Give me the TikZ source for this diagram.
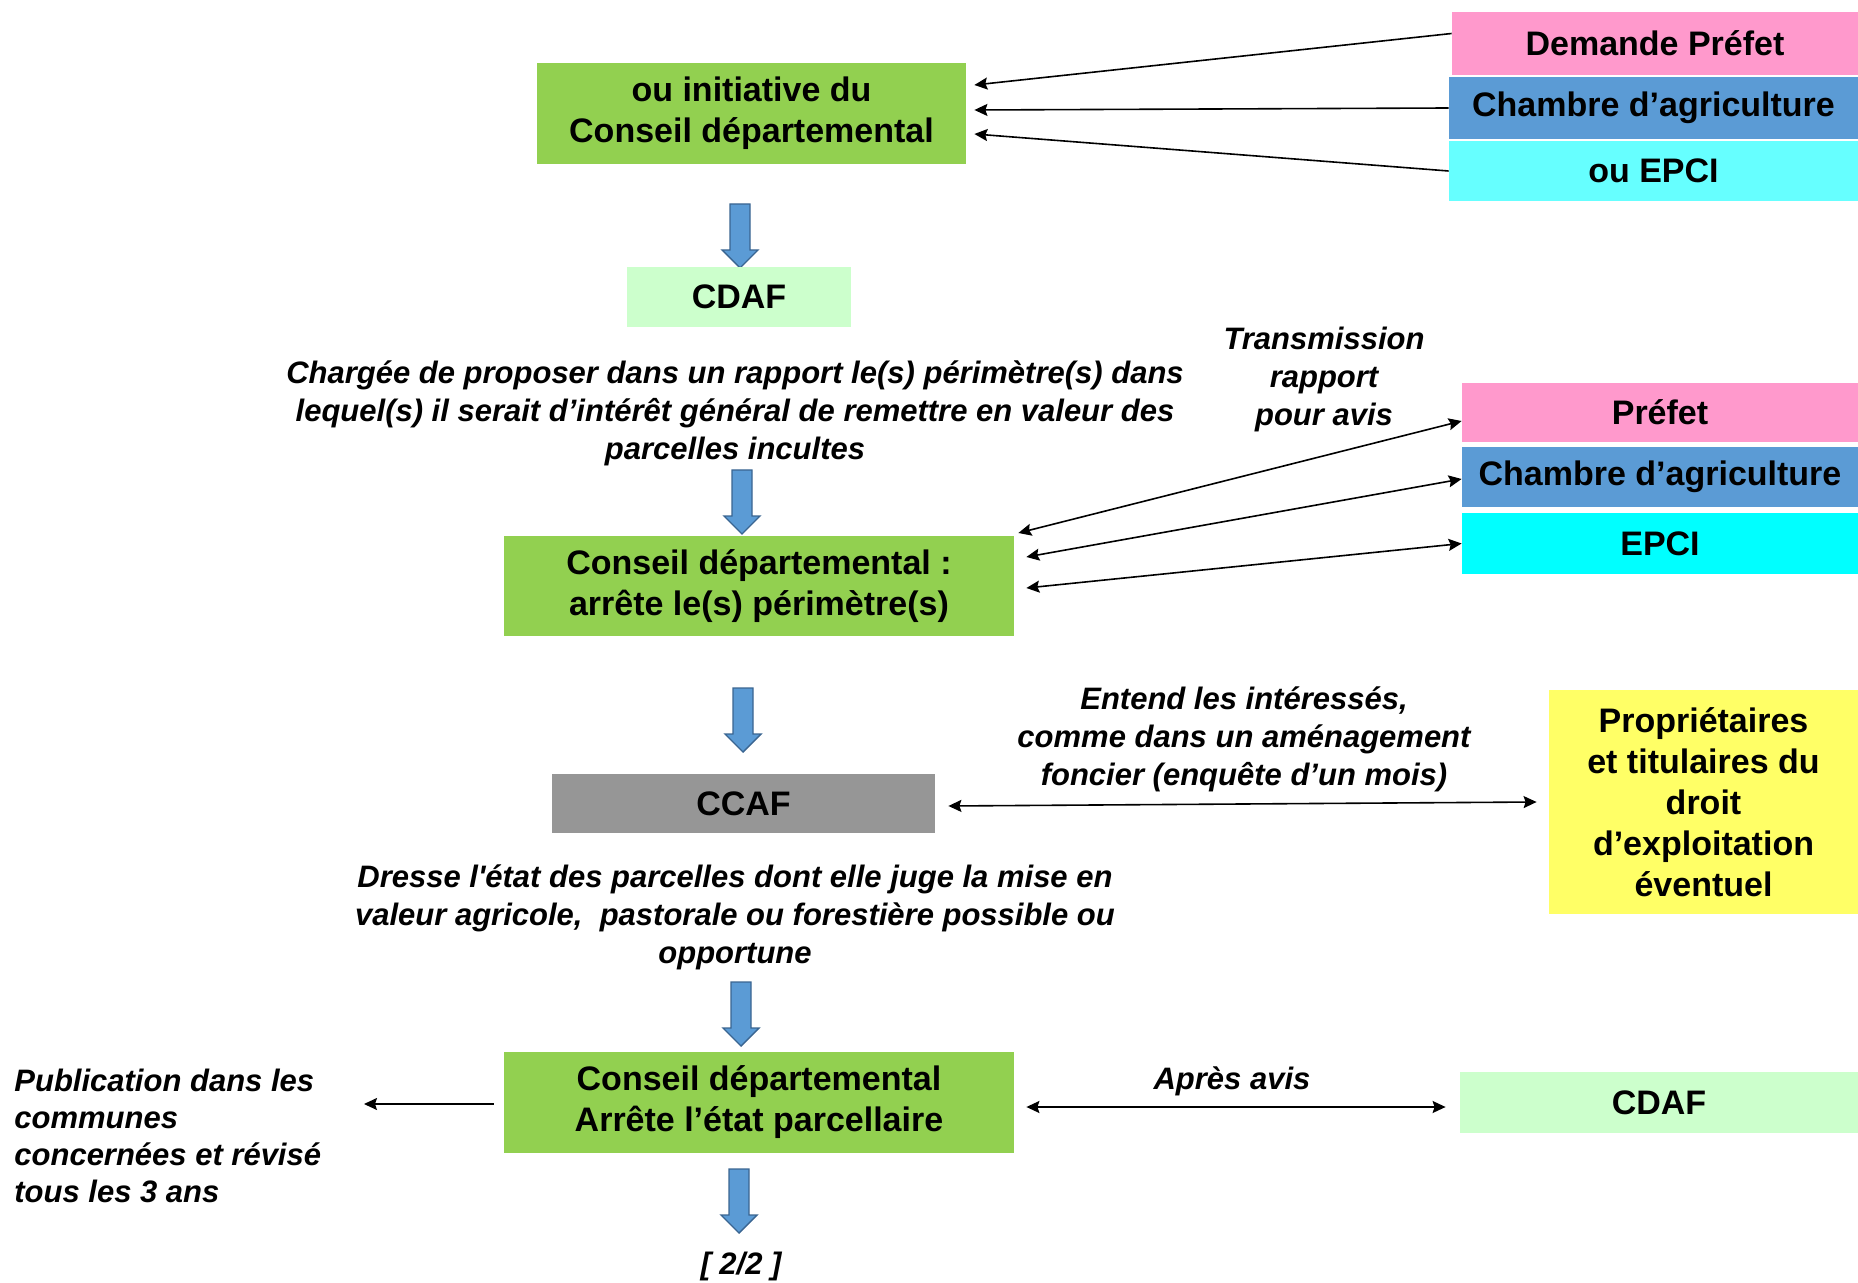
\documentclass[tikz,border=0pt]{standalone}
\usepackage{fontspec}
\setmainfont{Liberation Sans}
\usetikzlibrary{arrows.meta,calc}
\definecolor{vertcd}{HTML}{92D050}
\definecolor{vertpale}{HTML}{CCFFCC}
\definecolor{rosepref}{HTML}{FF99CC}
\definecolor{bleuch}{HTML}{5B9BD5}
\definecolor{cyanclair}{HTML}{66FFFF}
\definecolor{cyanvif}{HTML}{00FFFF}
\definecolor{grisccaf}{HTML}{969696}
\definecolor{jaunepro}{HTML}{FFFF66}
\definecolor{bleufl}{HTML}{5B9BD5}
\definecolor{bleubord}{HTML}{3A6591}
\newcommand{\policeboite}{\fontsize{17}{20.5}\selectfont\bfseries}
\newcommand{\policeital}{\fontsize{15.5}{19}\selectfont\bfseries\itshape}
\tikzset{
  boite/.style={rectangle, fill=#1, inner sep=0pt, align=center, font=\policeboite},
  taille/.style 2 args={minimum width=#1*0.5pt, minimum height=#2*0.5pt},
  legende/.style={align=center, inner sep=0pt, font=\policeital},
  fleche/.style={-{Stealth[length=6.5pt,width=6pt,inset=1pt]}, line width=0.8pt},
  fleches/.style={{Stealth[length=6.5pt,width=6pt,inset=1pt]}-{Stealth[length=6.5pt,width=6pt,inset=1pt]}, line width=0.8pt},
  blocbleu/.style={fill=bleufl, draw=bleubord, line width=0.7pt, line join=miter},
  flechebas/.pic={\draw[blocbleu] (-10,0) -- (10,0) -- (10,46) -- (18,46) -- (0,64) -- (-18,46) -- (-10,46) -- cycle;},
}

\begin{document}
\begin{tikzpicture}[x=0.5pt, y=-0.5pt]
\useasboundingbox (0,0) rectangle (1858,1283);
% initiative
\node[boite=vertcd, taille={429}{101}] (b1) at (751.5,113.5) {ou initiative du\\Conseil départemental};
\node[boite=rosepref, taille={406}{63}] (dp) at (1655,43.5) {Demande Préfet};
\node[boite=bleuch, taille={409}{62}] (ca1) at (1653.5,108) {Chambre d’agriculture};
\node[boite=cyanclair, taille={409}{60}] (epci1) at (1653.5,171) {ou EPCI};
\draw[fleche] ([shift={(0,-10)}]dp.west) -- ([shift={(8,-28.5)}]b1.east);
\draw[fleche] (ca1.west) -- ([shift={(8,-3.5)}]b1.east);
\draw[fleche] (epci1.west) -- ([shift={(8,20.5)}]b1.east);
\pic (fl1) at (740,204) {flechebas};
\node[boite=vertpale, taille={224}{60}] (cdaf1) at (739,297) {CDAF};
\node[legende] (txtcharge) at (735,413) {Chargée de proposer dans un rapport le(s) périmètre(s) dans\\lequel(s) il serait d’intérêt général de remettre en valeur des\\parcelles incultes};
% perimetres
\node[legende] (txttrans) at (1324,379) {Transmission\\rapport\\pour avis};
\pic (fl2) at (742,470) {flechebas};
\node[boite=vertcd, taille={510}{100}] (b2) at (759,586) {Conseil départemental :\\arrête le(s) périmètre(s)};
\node[boite=rosepref, taille={396}{59}] (pref2) at (1660,412.5) {Préfet};
\node[boite=bleuch, taille={396}{60}] (ca2) at (1660,477) {Chambre d’agriculture};
\node[boite=cyanvif, taille={396}{61}] (epci2) at (1660,543.5) {EPCI};
\draw[fleches] ([shift={(4,-53)}]b2.east) -- ([shift={(0,8.5)}]pref2.west);
\draw[fleches] ([shift={(12,-29)}]b2.east) -- ([shift={(0,2)}]ca2.west);
\draw[fleches] ([shift={(12,2)}]b2.east) -- (epci2.west);
% CCAF
\pic (fl3) at (743,688) {flechebas};
\node[boite=grisccaf, taille={383}{59}] (ccaf) at (743.5,803.5) {CCAF};
\node[boite=jaunepro, taille={309}{224}] (prop) at (1703.5,802) {Propriétaires\\et titulaires du\\droit\\d’exploitation\\éventuel};
\node[legende] (txtentend) at (1244,739) {Entend les intéressés,\\comme dans un aménagement\\foncier (enquête d’un mois)};
\draw[fleches] ([shift={(13,2.5)}]ccaf.east) -- ([shift={(-12,0)}]prop.west);
\node[legende] (txtdresse) at (735,917) {Dresse {\addfontfeatures{Ligatures=TeXOff}l'}état des parcelles dont elle juge la mise en\\valeur agricole,\ \ pastorale ou forestière possible ou\\opportune};
% etat parcellaire
\pic (fl4) at (741,982) {flechebas};
\node[boite=vertcd, taille={510}{101}] (b3) at (759,1102.5) {Conseil départemental\\Arrête l’état parcellaire};
\node[legende, align=left, anchor=west, font=\fontsize{15.5}{18.5}\selectfont\bfseries\itshape] (txtpub) at (14,1136) {Publication dans les\\communes\\concernées et révisé\\tous les 3 ans};
\coordinate (pubfin) at (364,1104);
\draw[fleche] ([shift={(-10,1.5)}]b3.west) -- (pubfin);
\node[boite=vertpale, taille={398}{61}] (cdaf2) at (1659,1102.5) {CDAF};
\draw[fleches] ([shift={(12,4.5)}]b3.east) -- ([shift={(-14,4.5)}]cdaf2.west);
\node[legende] (txtapres) at (1232,1081) {Après avis};
\pic (fl5) at (739,1169) {flechebas};
\node[legende] (txtpage) at (741,1266) {[ 2/2 ]};
\end{tikzpicture}
\end{document}
